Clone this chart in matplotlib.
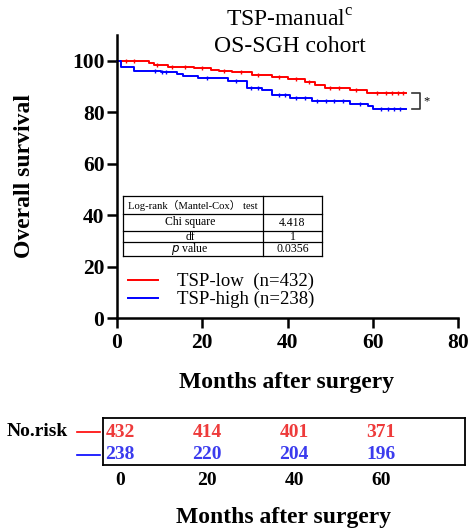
import matplotlib
matplotlib.use("Agg")
import matplotlib.pyplot as plt
from matplotlib.lines import Line2D

plt.rcParams["font.family"] = ["Liberation Serif", "Noto Sans CJK SC"]
plt.rcParams["mathtext.fontset"] = "custom"
plt.rcParams["mathtext.rm"] = "Liberation Serif"

# ── KM step data (months, % surviving) ──────────────────────────────────
LOW_T = [0, 1, 7.5, 8.7, 12, 18, 22, 24, 27, 31.7, 36.4, 40, 44, 46.5, 48.8, 54.7, 58.7, 67.8]
LOW_S = [100, 99.7, 99.1, 98.4, 97.7, 97.1, 96.5, 96.0, 95.7, 94.4, 93.5, 92.9, 91.8, 90.5, 89.4, 88.6, 87.4, 87.4]
HIGH_T = [0, 1, 4, 10.3, 14, 15.5, 19, 26, 30.5, 34, 36.4, 40.6, 45.8, 54.7, 59, 60, 67.8]
HIGH_S = [100, 97.7, 96.1, 95.6, 94.8, 93.9, 93.1, 92.0, 89.4, 88.6, 86.7, 85.7, 84.4, 83.1, 82.5, 81.2, 81.2]

# censor ticks
LOW_CENS = [2, 4, 9.5, 13, 16, 20, 25, 29, 33, 38, 42, 45, 50, 52, 56, 61, 63, 64.5, 66, 67]
HIGH_CENS = [9, 10.5, 11.5, 21, 28, 31.5, 33, 38, 39.5, 42, 44, 47, 49, 51, 53, 57, 62, 63.5, 65, 66.5]

# ── Stats table / risk table ────────────────────────────────────────────
STAT_ROWS = ["Chi square", "df", "$p$ value"]
STAT_VALS = ["4.418", "1", "0.0356"]
RISK_TIMES = [0, 20, 40, 60]
RISK_LOW = [432, 414, 401, 371]
RISK_HIGH = [238, 220, 204, 196]

RED = "#FF0000"
BLUE = "#0000FF"
RED_N = "#EE3B3B"
BLUE_N = "#3B3BEE"

W, H = 471, 531
fig = plt.figure(figsize=(W / 100, H / 100), dpi=100)


def fx(px):
    return px / W


def fy(py):
    return 1 - py / H


# ── Main KM axes ────────────────────────────────────────────────────────
ax = fig.add_axes([fx(117), fy(318), fx(458 - 117), (318 - 35) / H])
ax.set_xlim(0, 80)
ax.set_ylim(0, 110)
ax.step(LOW_T, LOW_S, where="post", color=RED, lw=1.4, clip_on=False)
ax.step(HIGH_T, HIGH_S, where="post", color=BLUE, lw=1.4, clip_on=False)


def surv_at(ts, ss, t):
    val = ss[0]
    for ti, si in zip(ts, ss):
        if ti <= t:
            val = si
    return val


ax.plot(LOW_CENS, [surv_at(LOW_T, LOW_S, t) for t in LOW_CENS], "|",
        color=RED, ms=3.5, mew=1)
ax.plot(HIGH_CENS, [surv_at(HIGH_T, HIGH_S, t) for t in HIGH_CENS], "|",
        color=BLUE, ms=3.5, mew=1)

for s in ("top", "right"):
    ax.spines[s].set_visible(False)
for s in ("left", "bottom"):
    ax.spines[s].set_linewidth(1.8)
ax.set_xticks([0, 20, 40, 60, 80])
ax.set_yticks([0, 20, 40, 60, 80, 100])
ax.tick_params(length=7, width=1.8, direction="out", labelsize=15.5)
ax.tick_params(axis="x", pad=4)
ax.tick_params(axis="y", pad=2)
for lab in ax.get_xticklabels() + ax.get_yticklabels():
    lab.set_fontweight("bold")
ax.set_xlabel("Months after surgery", fontsize=17, fontweight="bold")
ax.set_ylabel("Overall survival", fontsize=17, fontweight="bold")
ax.xaxis.set_label_coords(0.4985, -0.19)
ax.yaxis.set_label_coords(-0.241, 0.5)

# significance bracket
ax.plot([69.2, 71.2, 71.2, 69.2], [LOW_S[-1], LOW_S[-1], HIGH_S[-1], HIGH_S[-1]],
        color="#333333", lw=1.2, clip_on=False)
ax.text(71.8, (LOW_S[-1] + HIGH_S[-1]) / 2, "*", fontsize=9, va="center", ha="left")

# legend
handles = [Line2D([0], [0], color=RED, lw=1.4), Line2D([0], [0], color=BLUE, lw=1.4)]
ax.legend(handles, ["TSP-low  (n=432)", "TSP-high (n=238)"], loc="upper left",
          bbox_to_anchor=(0.011, 0.186), frameon=False, fontsize=13.5,
          handlelength=1.6, handletextpad=1.0, labelspacing=0.05, borderaxespad=0)

# title
fig.text(fx(290), fy(21), "TSP-manual$^{\\mathrm{c}}$", fontsize=17, ha="center", va="center")
fig.text(fx(290), fy(47), "OS-SGH cohort", fontsize=17, ha="center", va="center")

# ── Log-rank table ──────────────────────────────────────────────────────
tx = fig.add_axes([fx(123), fy(256), fx(322 - 123), (256 - 196) / H])
tx.set_xlim(123, 322)
tx.set_ylim(256, 196)
tx.axis("off")
row_lines = [196, 214, 231, 242, 256]
for yy in row_lines:
    tx.plot([123, 322], [yy, yy], color="black", lw=0.9, clip_on=False)
tx.plot([123, 123], [196, 256], color="black", lw=0.9, clip_on=False)
tx.plot([322, 322], [196, 256], color="black", lw=0.9, clip_on=False)
tx.plot([263, 263], [196, 256], color="black", lw=0.9, clip_on=False)
tx.text(193, 205.5, "Log-rank（Mantel-Cox） test", fontsize=7.7, ha="center", va="center")
for i, (name, val) in enumerate(zip(STAT_ROWS, STAT_VALS)):
    yc = (row_lines[i + 1] + row_lines[i + 2]) / 2
    tx.text(190, yc, name, fontsize=8.5, ha="center", va="center")
    tx.text(292.5, yc, val, fontsize=8.5, ha="center", va="center")

# ── Number-at-risk table ────────────────────────────────────────────────
rx = fig.add_axes([fx(103), fy(465), fx(465 - 103), (465 - 418) / H])
rx.set_xlim(-3.9, 79.3)
rx.set_ylim(0, 1)
for s in rx.spines.values():
    s.set_linewidth(1.3)
rx.set_yticks([])
rx.set_xticks(RISK_TIMES)
rx.tick_params(axis="x", length=0, labelsize=14, pad=5)
for lab in rx.get_xticklabels():
    lab.set_fontweight("bold")
for t, lo, hi in zip(RISK_TIMES, RISK_LOW, RISK_HIGH):
    rx.text(t, 0.70, str(lo), color=RED_N, fontsize=14, fontweight="bold", ha="center", va="center")
    rx.text(t, 0.22, str(hi), color=BLUE_N, fontsize=14, fontweight="bold", ha="center", va="center")
rx.set_xlabel("Months after surgery", fontsize=17, fontweight="bold", labelpad=13)

fig.text(fx(7), fy(432), "No.risk", fontsize=14, fontweight="bold", ha="left", va="center")
fig.add_artist(Line2D([fx(77), fx(100)], [fy(432), fy(432)], color=RED, lw=1.2))
fig.add_artist(Line2D([fx(77), fx(100)], [fy(455), fy(455)], color=BLUE, lw=1.2))

fig.savefig("out.png", dpi=100, facecolor="white")
